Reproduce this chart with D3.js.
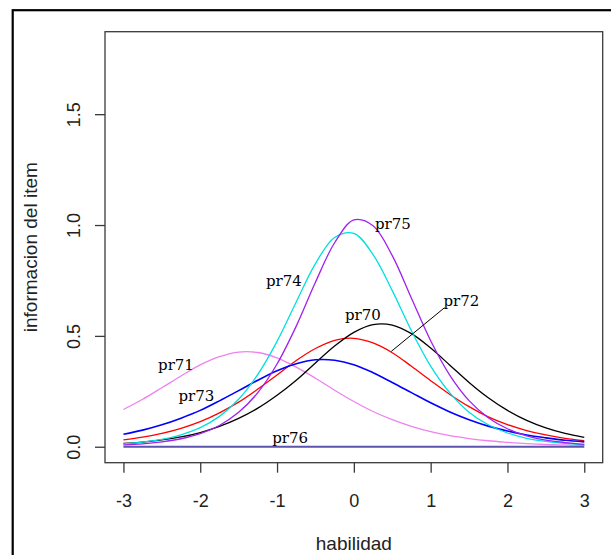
<!DOCTYPE html>
<html>
<head>
<meta charset="utf-8">
<script src="https://cdn.jsdelivr.net/npm/d3@7"></script>
<style>
html,body{margin:0;padding:0;background:#fff;overflow:hidden;}
svg{display:block;}
</style>
</head>
<body>
<svg id="chart" width="611" height="555"></svg>
<script>
// ---- data ----
const theta = [-3,-2.75,-2.5,-2.25,-2,-1.75,-1.5,-1.25,-1,-0.75,-0.5,-0.25,0,0.25,0.5,0.75,1,1.25,1.5,1.75,2,2.25,2.5,2.75,3];
const pr70 = [0.031,0.043,0.060,0.083,0.113,0.153,0.201,0.260,0.324,0.389,0.443,0.480,0.489,0.468,0.424,0.363,0.298,0.236,0.181,0.135,0.100,0.073,0.053,0.038,0.027];
const pr71 = [0.168,0.214,0.266,0.319,0.369,0.406,0.427,0.425,0.401,0.359,0.309,0.255,0.204,0.159,0.122,0.092,0.068,0.050,0.037,0.027,0.020,0.014,0.010,0.008,0.006];
const pr72 = [0.015,0.021,0.031,0.044,0.064,0.092,0.128,0.174,0.232,0.300,0.378,0.454,0.516,0.551,0.549,0.510,0.445,0.368,0.290,0.221,0.164,0.119,0.085,0.060,0.042];
const pr73 = [0.056,0.075,0.099,0.129,0.164,0.207,0.253,0.300,0.343,0.374,0.392,0.390,0.370,0.334,0.290,0.244,0.198,0.157,0.122,0.093,0.071,0.053,0.040,0.029,0.022];
const pr74 = [0.013,0.021,0.033,0.054,0.086,0.137,0.214,0.326,0.475,0.653,0.826,0.944,0.962,0.867,0.704,0.523,0.364,0.243,0.156,0.099,0.062,0.038,0.024,0.015,0.009];
const pr75 = [0.008,0.013,0.022,0.036,0.059,0.096,0.155,0.244,0.373,0.544,0.742,0.920,1.023,0.997,0.862,0.670,0.478,0.322,0.208,0.131,0.081,0.049,0.030,0.019,0.011];
const pr76 = [0,0,0,0,0,0,0,0,0,0,0,0,0,0,0,0,0,0,0,0,0,0,0,0,0];

const seriesNames = ["pr70","pr71","pr72","pr73","pr74","pr75","pr76"];
const seriesValues = [pr70, pr71, pr72, pr73, pr74, pr75, pr76];
const seriesColors = ["#ff0000","#ee82ee","#000000","#0000ff","#00e0e0","#a020f0","#5b55b0"];

const xTicks = [-3,-2,-1,0,1,2,3];
const yTicks = [0,0.5,1,1.5];
const yTickLabels = ["0.0","0.5","1.0","1.5"];

// label anchors in data units (theta, information)
const labelNames = ["pr75","pr74","pr72","pr70","pr71","pr73","pr76"];
const labelTheta = [0.509,-0.911,1.400,0.118,-2.316,-2.051,-0.829];
const labelInfo  = [0.980,0.727,0.633,0.573,0.347,0.207,0.015];

// leader segment from pr72 label
const leaderTheta = [1.18, 0.487];
const leaderInfo  = [0.627, 0.43];

const xTitle = "habilidad";
const yTitle = "informacion del item";

// ---- layout ----
const svg = d3.select("#chart");
const L = 105, R = 602.7, T = 31.7, B = 462.7;

const x = d3.scaleLinear().domain([-3.24, 3.24]).range([L, R]);
const y = d3.scaleLinear().domain([-0.072, 1.872]).range([B, T]);

// outer frame (only left/top edges visible)
svg.append("rect").attr("x",12.7).attr("y",10.2).attr("width",800).attr("height",800)
  .attr("fill","none").attr("stroke","#000").attr("stroke-width",2.2);

// curves
const line = d3.line()
  .x((d,i)=>x(theta[i]))
  .y(d=>y(d))
  .curve(d3.curveCatmullRom.alpha(0.5));

const g = svg.append("g");
seriesValues.forEach((vals, k) => {
  g.append("path")
    .datum(vals)
    .attr("d", line)
    .attr("fill","none")
    .attr("stroke", seriesColors[k])
    .attr("stroke-width", k===3 ? 1.6 : (k===6 ? 1.8 : 1.3))
    .attr("stroke-linejoin","round");
});

// leader line
svg.append("path")
  .datum(leaderTheta.map((t,i)=>[t, leaderInfo[i]]))
  .attr("d", d3.line().x(d=>x(d[0])).y(d=>y(d[1])))
  .attr("stroke","#000").attr("stroke-width",1).attr("fill","none");

// labels
svg.append("g").selectAll("text")
  .data(labelNames)
  .join("text")
  .attr("x",(d,i)=>x(labelTheta[i]))
  .attr("y",(d,i)=>y(labelInfo[i]))
  .attr("text-anchor","middle")
  .attr("font-family","'DejaVu Serif', serif")
  .attr("font-size","15px")
  .attr("fill","#000")
  .text(d=>d);

// box
svg.append("rect").attr("x",L).attr("y",T).attr("width",R-L).attr("height",B-T)
  .attr("fill","none").attr("stroke","#3a3a3a").attr("stroke-width",1.3);

// x axis
const xAxis = svg.append("g").attr("transform",`translate(0,${B})`)
  .call(d3.axisBottom(x).tickValues(xTicks).tickSize(10).tickFormat(d3.format("d")));
xAxis.select(".domain").remove();
xAxis.selectAll("line").attr("stroke","#3a3a3a").attr("stroke-width",1.3);
xAxis.selectAll("text")
  .attr("y",44.6).attr("dy",null)
  .attr("font-family","'Liberation Sans', Arial, sans-serif")
  .attr("font-size","18px").attr("fill","#222")
  .text(d => d < 0 ? "-" + Math.abs(d) : String(d));

// y axis
const yAxis = svg.append("g").attr("transform",`translate(${L},0)`)
  .call(d3.axisLeft(y).tickValues(yTicks).tickSize(10).tickFormat((d,i)=>yTickLabels[i]));
yAxis.select(".domain").remove();
yAxis.selectAll("line").attr("stroke","#3a3a3a").attr("stroke-width",1.3);
yAxis.selectAll("text")
  .attr("x",0).attr("y",0).attr("dy",null)
  .attr("text-anchor","middle")
  .attr("transform","translate(-25,0) rotate(-90)")
  .attr("font-family","'Liberation Sans', Arial, sans-serif")
  .attr("font-size","18px").attr("fill","#222");

// titles
svg.append("text")
  .attr("x",(L+R)/2).attr("y",550)
  .attr("text-anchor","middle")
  .attr("font-family","'Liberation Sans', Arial, sans-serif")
  .attr("font-size","19px").attr("fill","#222")
  .text(xTitle);

svg.append("text")
  .attr("transform",`translate(37.3,${(T+B)/2}) rotate(-90)`)
  .attr("text-anchor","middle")
  .attr("font-family","'Liberation Sans', Arial, sans-serif")
  .attr("font-size","19px").attr("fill","#222")
  .text(yTitle);
</script>
</body>
</html>
